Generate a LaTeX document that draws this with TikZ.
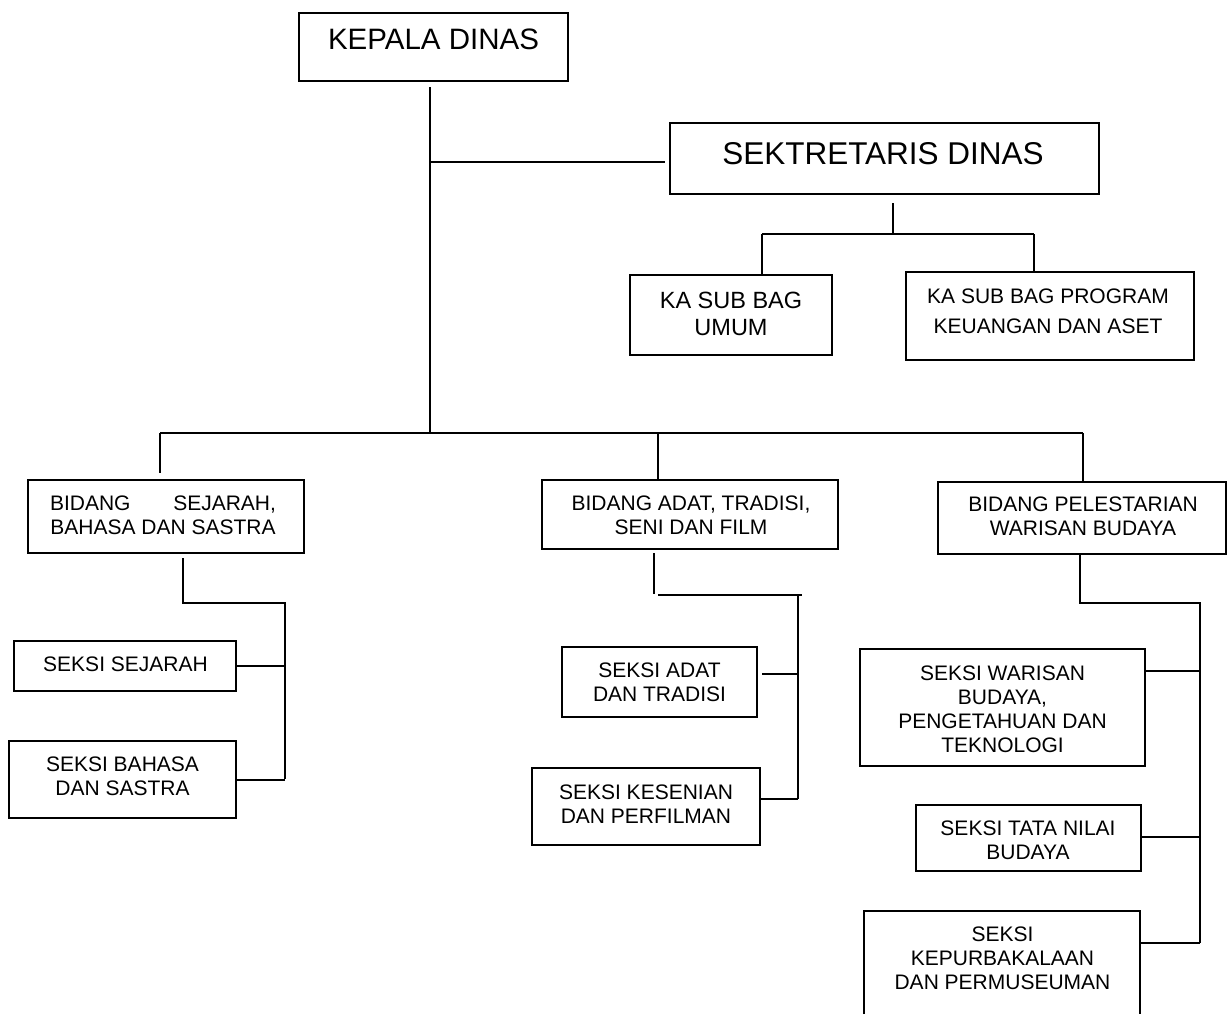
\documentclass[tikz,border=0pt]{standalone}
\usepackage{fontspec}
\setmainfont{Liberation Sans}
\newcommand\orgbox[6][box]{%
  \pgfmathsetmacro\obw{#5-#3}\pgfmathsetmacro\obh{#6-#4}%
  \node[#1, minimum width=\obw pt, minimum height=\obh pt] (#2) at ({(#3+#5)/2},{(#4+#6)/2}) {};}
\begin{document}
\begin{tikzpicture}[x=1pt,y=-1pt,
  box/.style={draw, line width=2.2pt, inner sep=0pt},
  openbox/.style={draw=none, inner sep=0pt},
  lbl/.style={inner sep=0pt, align=center, font=\fontsize{21}{24}\selectfont},
  conn/.style={line width=2pt}]
\useasboundingbox (0,0) rectangle (1228,1014);
\fill[white] (0,0) rectangle (1228,1014);

% boxes
\orgbox{kd}{299}{13}{568}{81}
\orgbox{sd}{670}{123}{1099}{194}
\orgbox{su}{630}{275}{832}{355}
\orgbox{sp}{906}{272}{1194}{360}
\orgbox{b1}{28}{480}{304}{553}
\orgbox{b2}{542}{480}{838}{549}
\orgbox{b3}{938}{482}{1226}{554}
\orgbox{s11}{14}{641}{236}{691}
\orgbox{s12}{9}{741}{236}{818}
\orgbox{s21}{562}{647}{757}{717}
\orgbox{s22}{532}{768}{760}{845}
\orgbox{s31}{860}{649}{1145}{766}
\orgbox{s32}{916}{805}{1141}{871}
\orgbox[openbox]{kp}{864}{911}{1140}{1014}
\draw[line width=2.2pt] (kp.south west) -- (kp.north west) -- (kp.north east) -- (kp.south east);

% texts
\node[lbl, font=\fontsize{29.5}{34}\selectfont] (kdt) at (433.5,39) {KEPALA DINAS};
\node[lbl, font=\fontsize{31.5}{36}\selectfont] (sdt) at (883,153.5) {SEKTRETARIS DINAS};
\node[lbl, font=\fontsize{23.5}{27.5}\selectfont] (sut) at (731,314) {KA SUB BAG\\UMUM};
\node[lbl, font=\fontsize{21}{30}\selectfont] (spt) at (1048,311.5) {KA SUB BAG PROGRAM\\KEUANGAN DAN ASET};
\node[lbl] (b1t) at (163,515.5) {\hbox to 226pt{BIDANG\hfill SEJARAH,}\\BAHASA DAN SASTRA};
\node[lbl] (b2t) at (691,515.3) {BIDANG ADAT, TRADISI,\\SENI DAN FILM};
\node[lbl] (b3t) at (1083,516.5) {BIDANG PELESTARIAN\\WARISAN BUDAYA};
\node[lbl] (s11t) at (125.5,664) {SEKSI SEJARAH};
\node[lbl] (s12t) at (122.5,776) {SEKSI BAHASA\\DAN SASTRA};
\node[lbl] (s21t) at (659.5,682) {SEKSI ADAT\\DAN TRADISI};
\node[lbl] (s22t) at (646,804) {SEKSI KESENIAN\\DAN PERFILMAN};
\node[lbl] (s31t) at (1002.5,709) {SEKSI WARISAN\\BUDAYA,\\PENGETAHUAN DAN\\TEKNOLOGI};
\node[lbl] (s32t) at (1028,840.5) {SEKSI TATA NILAI\\BUDAYA};
\node[lbl] (kpt) at (1002.5,958.5) {SEKSI\\KEPURBAKALAAN\\DAN PERMUSEUMAN};

% connector coordinates
\coordinate (T) at (430,433);
\coordinate (J1) at (430,162);
\coordinate (S1) at (893,234);
\coordinate (SL) at (762,234);
\coordinate (SR) at (1034,234);
\coordinate (HL) at (160,433);
\coordinate (HM) at (658,433);
\coordinate (HR) at (1083,433);
\coordinate (A0) at (183,603);
\coordinate (A1) at (285,603);
\coordinate (A2) at (285,779);
\coordinate (B0) at (654,594);
\coordinate (B0h) at (658,595);
\coordinate (B1) at (802,595);
\coordinate (B2) at (798,595);
\coordinate (B3) at (798,799);
\coordinate (B4) at (798,674);
\coordinate (C0) at (1080,603);
\coordinate (C1) at (1200,603);
\coordinate (C2) at (1200,943);
\coordinate (C3) at (1200,671);
\coordinate (C4) at (1200,837);

% top part
\draw[conn] (kd.south -| T) ++(0,5) -- (T);
\draw[conn] (J1) -- ([xshift=-4pt]sd.west |- J1);
\draw[conn] (sd.south -| S1) ++(0,8) -- (S1);
\draw[conn] (SL) -- (SR);
\draw[conn] (SL) -- (su.north -| SL);
\draw[conn] (SR) -- (sp.north -| SR);

% main bar
\draw[conn] (HL) -- (HR);
\draw[conn] (HL) -- ([yshift=6pt]b1.north -| HL);
\draw[conn] (HM) -- (b2.north -| HM);
\draw[conn] (HR) -- (b3.north -| HR);

% bidang sejarah
\draw[conn] (b1.south -| A0) ++(0,4) -- (A0) -- (A1) -- (A2);
\draw[conn] (s11.east) -- (s11.east -| A1);
\draw[conn] (s12.east) -- (s12.east -| A2);

% bidang adat
\draw[conn] (b2.south -| B0) ++(0,3) -- (B0);
\draw[conn] (B0h) -- (B1);
\draw[conn] (B2) -- (B3);
\draw[conn] (B4) -- ([xshift=4pt]s21.east |- B4);
\draw[conn] (B3) -- (s22.east |- B3);

% bidang pelestarian
\draw[conn] (b3.south -| C0) -- (C0) -- (C1) -- (C2);
\draw[conn] (C3) -- (s31.east |- C3);
\draw[conn] (C4) -- (s32.east |- C4);
\draw[conn] (C2) -- (kp.east |- C2);
\end{tikzpicture}
\end{document}
